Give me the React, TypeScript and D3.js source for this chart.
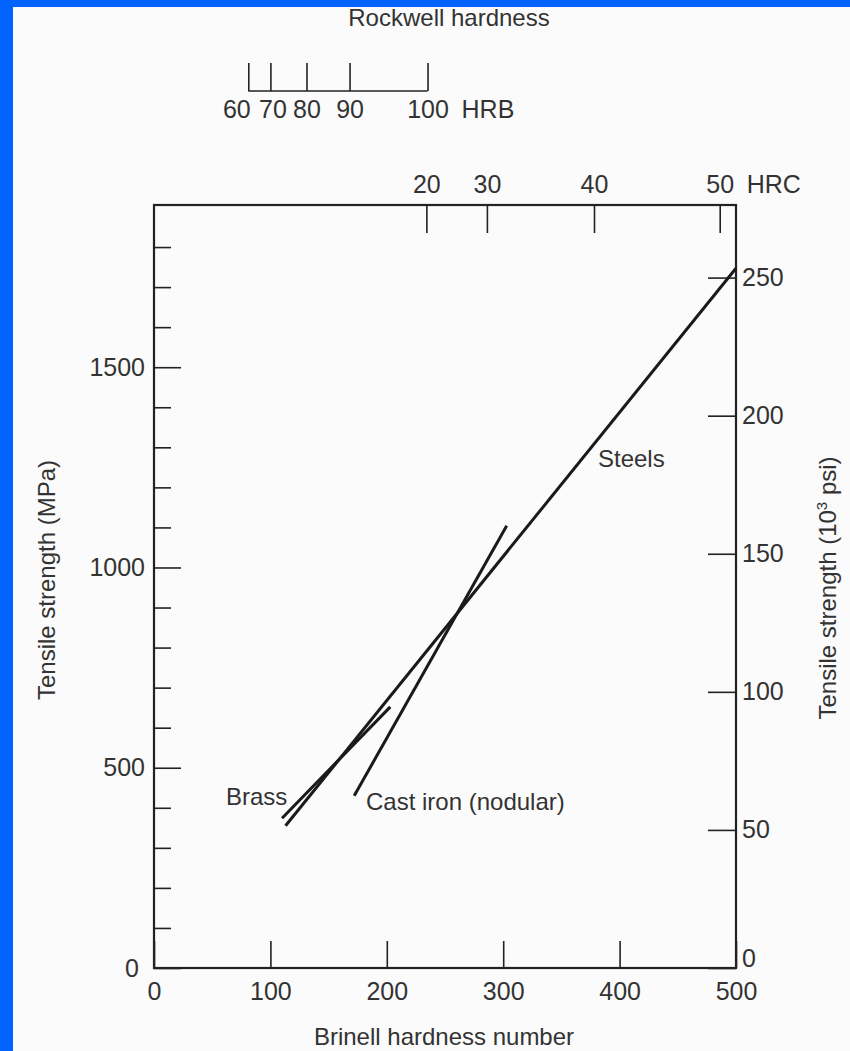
import React, { useEffect, useRef } from 'react';
import * as d3 from 'd3';

// Brinell number where each Rockwell tick sits on the chart
const hrcLabels = ['20', '30', '40', '50'];
const hrcAsBrinell = [234, 286, 378, 486];
const hrbLabels = ['60', '70', '80', '90', '100'];
const hrbAsBrinell = [81, 100, 131, 168, 235];

const brinellTicks = [0, 100, 200, 300, 400, 500];
const mpaMajor = [0, 500, 1000, 1500];
const mpaMinor = [100, 200, 300, 400, 600, 700, 800, 900, 1100, 1200, 1300, 1400, 1600, 1700, 1800];
const ksiTicks = [0, 50, 100, 150, 200, 250];

// [brinell, MPa] end points
const steels = [[113, 355], [500, 1747]];
const brass = [[110, 374], [203, 652]];
const castIron = [[172, 430], [303, 1104]];

const MPA_PER_KSI = 6.895;

const App = () => {
  const ref = useRef<SVGSVGElement>(null);

  useEffect(() => {
    const svg = d3.select(ref.current);
    svg.selectAll('*').remove();
    const W = 850, H = 1051;
    const left = 154, right = 736, top = 205, bottom = 968;
    const font = '"Liberation Sans", Arial, sans-serif';
    const ink = '#222';
    const txt = '#333';
    const fs = 24; // labels
    const fn = 25; // numbers

    svg.append('rect').attr('width', W).attr('height', H).attr('fill', '#fbfbfb');
    svg.append('rect').attr('width', 13).attr('height', H).attr('fill', '#0062ff');
    svg.append('rect').attr('width', W).attr('height', 7).attr('fill', '#0062ff');

    const x = d3.scaleLinear().domain([0, 500]).range([left, right]);
    const yTop = 1905;
    const y = d3.scaleLinear().domain([0, yTop]).range([bottom, top]);
    const yKsi = d3.scaleLinear().domain([0, yTop / MPA_PER_KSI]).range([bottom, top]);
    const num = d3.format('d');

    const style = (g) => {
      g.attr('font-family', font).attr('font-size', fn);
      g.select('.domain').remove();
      g.selectAll('line').attr('stroke', ink).attr('stroke-width', 1.6);
      g.selectAll('text').attr('fill', txt);
    };

    // left MPa axis
    const gl = svg.append('g').attr('transform', `translate(${left},0)`)
      .call(d3.axisLeft(y).tickValues(mpaMajor).tickSize(-27).tickPadding(9).tickFormat(num))
      .call(style);
    gl.selectAll('text').filter((d) => d === 0).attr('dx', -6);
    svg.append('g').attr('transform', `translate(${left},0)`)
      .call(d3.axisLeft(y).tickValues(mpaMinor).tickSize(-17).tickFormat(() => ''))
      .call(style);

    // right ksi axis
    const gr = svg.append('g').attr('transform', `translate(${right},0)`)
      .call(d3.axisRight(yKsi).tickValues(ksiTicks).tickSize(-28).tickPadding(6).tickFormat(num))
      .call(style);
    gr.selectAll('text').filter((d) => d === 0).attr('dy', '-0.05em');

    // bottom Brinell axis
    svg.append('g').attr('transform', `translate(0,${bottom})`)
      .call(d3.axisBottom(x).tickValues(brinellTicks).tickSize(-27).tickPadding(14).tickFormat(num))
      .call(style);

    // top HRC axis
    svg.append('g').attr('transform', `translate(0,${top})`)
      .call(d3.axisTop(x).tickValues(hrcAsBrinell).tickSize(-28).tickPadding(12)
        .tickFormat((d, i) => hrcLabels[i]))
      .call(style);
    svg.append('text').attr('x', x(hrcAsBrinell[3]) + 27).attr('y', top - 12)
      .attr('font-family', font).attr('font-size', fn).attr('fill', txt).text('HRC');

    // HRB scale
    const hrbY = 91;
    const gb = svg.append('g').attr('transform', `translate(0,${hrbY})`)
      .call(d3.axisBottom(x).tickValues(hrbAsBrinell).tickSize(-28).tickPadding(9)
        .tickFormat((d, i) => hrbLabels[i]))
      .call(style);
    gb.selectAll('text').attr('dx', (d, i) => (i === 0 ? -12 : i === 1 ? 2 : 0));
    svg.append('line')
      .attr('x1', x(hrbAsBrinell[0])).attr('x2', x(hrbAsBrinell[4]))
      .attr('y1', hrbY).attr('y2', hrbY)
      .attr('stroke', ink).attr('stroke-width', 1.6);
    svg.append('text').attr('x', x(hrbAsBrinell[4]) + 34).attr('y', hrbY + 27)
      .attr('font-family', font).attr('font-size', fn).attr('fill', txt).text('HRB');

    svg.append('text').attr('x', 449).attr('y', 26).attr('text-anchor', 'middle')
      .attr('font-family', font).attr('font-size', fs).attr('fill', txt).text('Rockwell hardness');

    // frame
    svg.append('rect').attr('x', left).attr('y', top)
      .attr('width', right - left).attr('height', bottom - top)
      .attr('fill', 'none').attr('stroke', ink).attr('stroke-width', 2.2);

    // lines
    const line = d3.line().x((d) => x(d[0])).y((d) => y(d[1]));
    [steels, brass, castIron].forEach((s) => {
      svg.append('path').attr('d', line(s)).attr('fill', 'none')
        .attr('stroke', '#1a1a1a').attr('stroke-width', 3);
    });

    const label = (t, lx, ly) =>
      svg.append('text').attr('x', lx).attr('y', ly)
        .attr('font-family', font).attr('font-size', fs).attr('fill', txt).text(t);
    label('Steels', 598, 467);
    label('Brass', 226, 805);
    label('Cast iron (nodular)', 366, 810);

    // axis titles
    svg.append('text').attr('x', (left + right) / 2 - 1).attr('y', 1045)
      .attr('text-anchor', 'middle').attr('font-family', font).attr('font-size', fs)
      .attr('fill', txt).text('Brinell hardness number');
    svg.append('text').attr('transform', 'translate(55,580) rotate(-90)')
      .attr('text-anchor', 'middle').attr('font-family', font).attr('font-size', fs)
      .attr('fill', txt).text('Tensile strength (MPa)');
    const rt = svg.append('text').attr('transform', 'translate(836,588) rotate(-90)')
      .attr('text-anchor', 'middle').attr('font-family', font).attr('font-size', fs)
      .attr('fill', txt);
    rt.append('tspan').text('Tensile strength (10');
    rt.append('tspan').attr('dy', -9).attr('font-size', 15).text('3');
    rt.append('tspan').attr('dy', 9).text(' psi)');
  }, []);

  return (
    <div style={{ position: 'absolute', left: 0, top: 0 }}>
      <svg ref={ref} width={850} height={1051} style={{ display: 'block' }} />
    </div>
  );
};

export default App;
